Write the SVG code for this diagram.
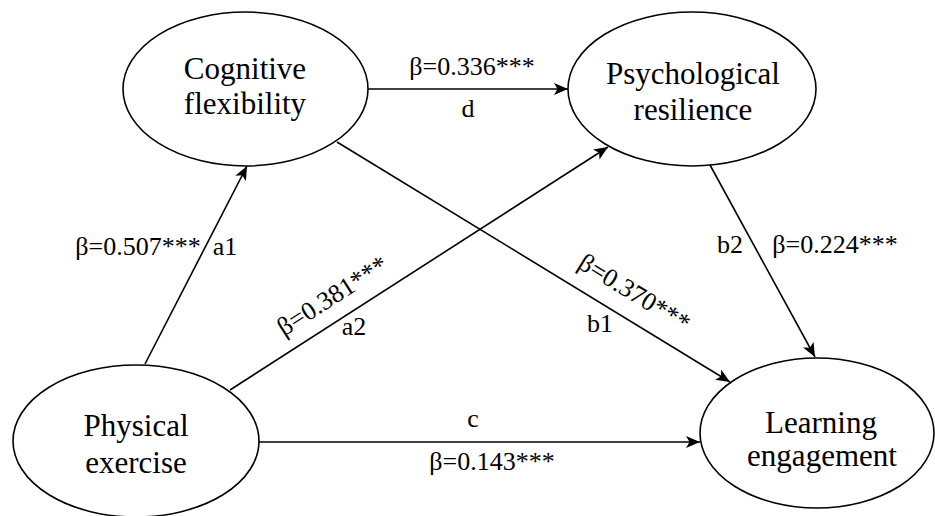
<svg xmlns="http://www.w3.org/2000/svg" width="935" height="516" viewBox="0 0 935 516">
<style>
.node{fill:#fff;stroke:#000;stroke-width:1.6}
text{font-family:'Liberation Serif','Times New Roman',Times,'DejaVu Serif',serif;fill:#000;text-anchor:middle}
.nt{font-size:31px}
.lb{font-size:26px}
.edge{stroke:#000;stroke-width:1.6;fill:none;marker-end:url(#arr)}
</style>
<defs>
<marker id="arr" markerUnits="userSpaceOnUse" markerWidth="14" markerHeight="12" viewBox="0 0 14 12" refX="14" refY="6" orient="auto">
<path d="M0,0 L14,6 L0,12 L3.5,6 z" fill="#000"/>
</marker>
</defs>
<rect width="935" height="516" fill="#fff"/>
<g id="connectors">
<line class="edge" x1="368" y1="89" x2="568" y2="89"/>
<line class="edge" x1="145" y1="364" x2="247" y2="166"/>
<line class="edge" x1="230" y1="390" x2="608" y2="147"/>
<line class="edge" x1="337" y1="142" x2="730" y2="382"/>
<line class="edge" x1="710" y1="165" x2="815" y2="357"/>
<line class="edge" x1="259" y1="442" x2="700" y2="442"/>
</g>
<g id="cognitive">
<ellipse class="node" cx="245.5" cy="89" rx="122.5" ry="77"/>
<text class="nt" x="245" y="79">Cognitive</text>
<text class="nt" x="245" y="114">flexibility</text>
</g>
<g id="resilience">
<ellipse class="node" cx="692" cy="89" rx="124" ry="77"/>
<text class="nt" x="693" y="84">Psychological</text>
<text class="nt" x="693" y="120">resilience</text>
</g>
<g id="exercise">
<ellipse class="node" cx="136" cy="441" rx="123" ry="76"/>
<text class="nt" x="136" y="436">Physical</text>
<text class="nt" x="136" y="473">exercise</text>
</g>
<g id="engagement">
<ellipse class="node" cx="817" cy="433" rx="117" ry="75"/>
<text class="nt" x="821" y="433">Learning</text>
<text class="nt" x="822" y="466">engagement</text>
</g>
<g id="labels">
<text class="lb" x="138" y="255">β=0.507***</text>
<text class="lb" x="225" y="255">a1</text>
<text class="lb" x="472" y="75">β=0.336***</text>
<text class="lb" x="468" y="117">d</text>
<text class="lb" transform="translate(337,303) rotate(-32.5)">β=0.381***</text>
<text class="lb" x="354" y="335">a2</text>
<text class="lb" transform="translate(630,300) rotate(31.4)">β=0.370***</text>
<text class="lb" x="600" y="332">b1</text>
<text class="lb" x="730" y="253">b2</text>
<text class="lb" x="835" y="253">β=0.224***</text>
<text class="lb" x="473" y="427">c</text>
<text class="lb" x="492" y="470">β=0.143***</text>
</g>
</svg>
